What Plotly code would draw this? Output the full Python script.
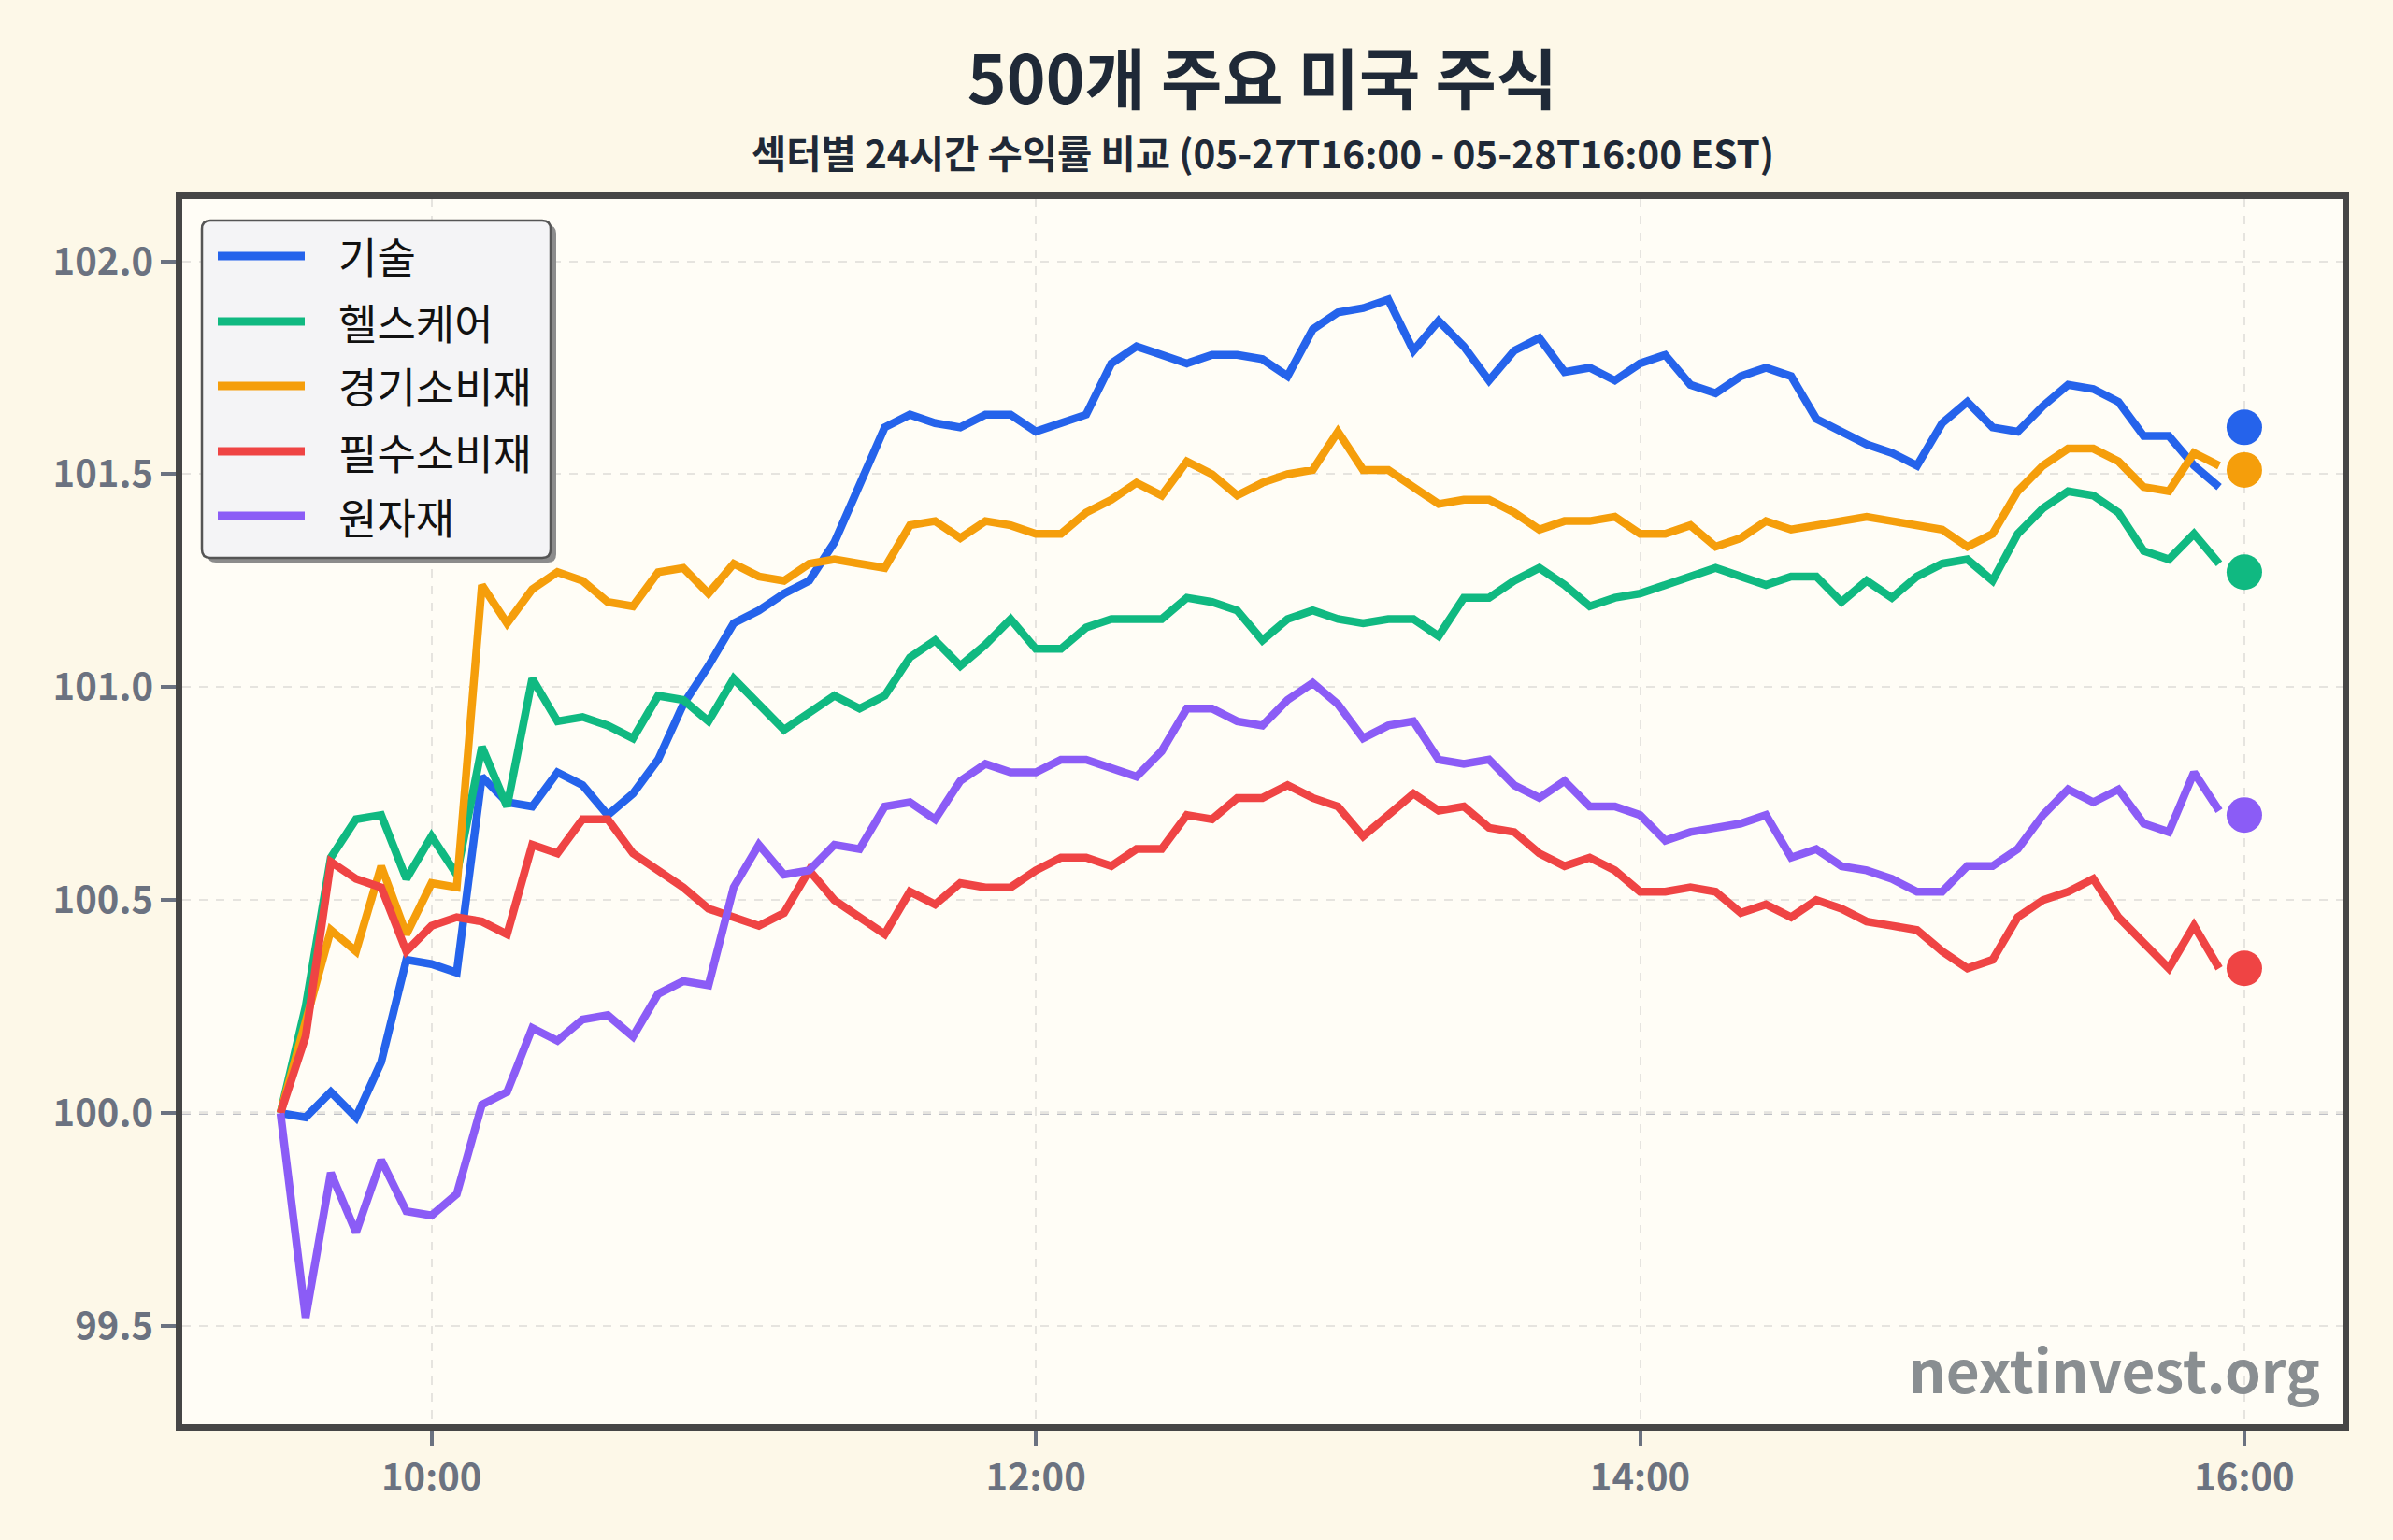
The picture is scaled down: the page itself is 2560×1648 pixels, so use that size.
import pandas as pd
import plotly.graph_objects as go

# ---------------- data ----------------
start_time = "2025-05-28 09:30"
n_points = 78
end_time = "2025-05-28 16:00"

sectors = ["기술", "헬스케어", "경기소비재", "필수소비재", "원자재"]
colors = ["#2563eb", "#10b981", "#f59e0b", "#ef4444", "#8b5cf6"]

tech = [100.00, 99.99, 100.05, 99.99, 100.12, 100.36, 100.35, 100.33, 100.79, 100.73,
        100.72, 100.80, 100.77, 100.70, 100.75, 100.83, 100.96, 101.05, 101.15, 101.18,
        101.22, 101.25, 101.34, 101.48, 101.61, 101.64, 101.62, 101.61, 101.64, 101.64,
        101.60, 101.62, 101.64, 101.76, 101.80, 101.78, 101.76, 101.78, 101.78, 101.77,
        101.73, 101.84, 101.88, 101.89, 101.91, 101.79, 101.86, 101.80, 101.72, 101.79,
        101.82, 101.74, 101.75, 101.72, 101.76, 101.78, 101.71, 101.69, 101.73, 101.75,
        101.73, 101.63, 101.60, 101.57, 101.55, 101.52, 101.62, 101.67, 101.61, 101.60,
        101.66, 101.71, 101.70, 101.67, 101.59, 101.59, 101.52, 101.47]

health = [100.00, 100.25, 100.60, 100.69, 100.70, 100.55, 100.65, 100.56, 100.86, 100.72,
          101.02, 100.92, 100.93, 100.91, 100.88, 100.98, 100.97, 100.92, 101.02, 100.96,
          100.90, 100.94, 100.98, 100.95, 100.98, 101.07, 101.11, 101.05, 101.10, 101.16,
          101.09, 101.09, 101.14, 101.16, 101.16, 101.16, 101.21, 101.20, 101.18, 101.11,
          101.16, 101.18, 101.16, 101.15, 101.16, 101.16, 101.12, 101.21, 101.21, 101.25,
          101.28, 101.24, 101.19, 101.21, 101.22, 101.24, 101.26, 101.28, 101.26, 101.24,
          101.26, 101.26, 101.20, 101.25, 101.21, 101.26, 101.29, 101.30, 101.25, 101.36,
          101.42, 101.46, 101.45, 101.41, 101.32, 101.30, 101.36, 101.29]

discretionary = [100.00, 100.21, 100.43, 100.38, 100.58, 100.42, 100.54, 100.53, 101.24, 101.15,
                 101.23, 101.27, 101.25, 101.20, 101.19, 101.27, 101.28, 101.22, 101.29, 101.26,
                 101.25, 101.29, 101.30, 101.29, 101.28, 101.38, 101.39, 101.35, 101.39, 101.38,
                 101.36, 101.36, 101.41, 101.44, 101.48, 101.45, 101.53, 101.50, 101.45, 101.48,
                 101.50, 101.51, 101.60, 101.51, 101.51, 101.47, 101.43, 101.44, 101.44, 101.41,
                 101.37, 101.39, 101.39, 101.40, 101.36, 101.36, 101.38, 101.33, 101.35, 101.39,
                 101.37, 101.38, 101.39, 101.40, 101.39, 101.38, 101.37, 101.33, 101.36, 101.46,
                 101.52, 101.56, 101.56, 101.53, 101.47, 101.46, 101.55, 101.52]

staples = [100.00, 100.18, 100.59, 100.55, 100.53, 100.38, 100.44, 100.46, 100.45, 100.42,
           100.63, 100.61, 100.69, 100.69, 100.61, 100.57, 100.53, 100.48, 100.46, 100.44,
           100.47, 100.57, 100.50, 100.46, 100.42, 100.52, 100.49, 100.54, 100.53, 100.53,
           100.57, 100.60, 100.60, 100.58, 100.62, 100.62, 100.70, 100.69, 100.74, 100.74,
           100.77, 100.74, 100.72, 100.65, 100.70, 100.75, 100.71, 100.72, 100.67, 100.66,
           100.61, 100.58, 100.60, 100.57, 100.52, 100.52, 100.53, 100.52, 100.47, 100.49,
           100.46, 100.50, 100.48, 100.45, 100.44, 100.43, 100.38, 100.34, 100.36, 100.46,
           100.50, 100.52, 100.55, 100.46, 100.40, 100.34, 100.44, 100.34]

materials = [100.00, 99.52, 99.86, 99.72, 99.89, 99.77, 99.76, 99.81, 100.02, 100.05,
             100.20, 100.17, 100.22, 100.23, 100.18, 100.28, 100.31, 100.30, 100.53, 100.63,
             100.56, 100.57, 100.63, 100.62, 100.72, 100.73, 100.69, 100.78, 100.82, 100.80,
             100.80, 100.83, 100.83, 100.81, 100.79, 100.85, 100.95, 100.95, 100.92, 100.91,
             100.97, 101.01, 100.96, 100.88, 100.91, 100.92, 100.83, 100.82, 100.83, 100.77,
             100.74, 100.78, 100.72, 100.72, 100.70, 100.64, 100.66, 100.67, 100.68, 100.70,
             100.60, 100.62, 100.58, 100.57, 100.55, 100.52, 100.52, 100.58, 100.58, 100.62,
             100.70, 100.76, 100.73, 100.76, 100.68, 100.66, 100.80, 100.71]

final_values = [101.61, 101.27, 101.51, 100.34, 100.70]

y_tickvals = [99.5, 100.0, 100.5, 101.0, 101.5, 102.0]
x_tickvals = ["2025-05-28 10:00", "2025-05-28 12:00", "2025-05-28 14:00", "2025-05-28 16:00"]
x_range = ["2025-05-28 09:10:30", "2025-05-28 16:19:30"]
y_range = [99.27, 102.146]

title_text = "500개 주요 미국 주식"
subtitle_text = "섹터별 24시간 수익률 비교 (05-27T16:00 - 05-28T16:00 EST)"
watermark = "nextinvest.org"

# ---------------- figure ----------------
times = pd.date_range(start_time, periods=n_points, freq="5min")
series = [tech, health, discretionary, staples, materials]
FONT = "Noto Sans CJK KR"
W, H = 2560, 1648
ML, MR, MT, MB = 195, 54, 213, 124
PW, PH = W - ML - MR, H - MT - MB


def px_x(px):
    return (px - ML) / PW


def px_y(py):
    return (H - MB - py) / PH


def rounded_rect(x0p, y0p, x1p, y1p, r):
    """Rounded rectangle path in paper coords from pixel box (top-left, bottom-right)."""
    x0, x1 = px_x(x0p), px_x(x1p)
    yt, yb = px_y(y0p), px_y(y1p)
    rx, ry = r / PW, r / PH
    return (f"M {x0 + rx},{yt} L {x1 - rx},{yt} Q {x1},{yt} {x1},{yt - ry} "
            f"L {x1},{yb + ry} Q {x1},{yb} {x1 - rx},{yb} L {x0 + rx},{yb} "
            f"Q {x0},{yb} {x0},{yb + ry} L {x0},{yt - ry} Q {x0},{yt} {x0 + rx},{yt} Z")


fig = go.Figure()
for name, vals, col in zip(sectors, series, colors):
    fig.add_trace(go.Scatter(
        x=times, y=vals, mode="lines", name=name,
        line=dict(color=col, width=8.5), showlegend=False,
    ))
for name, val, col in zip(sectors, final_values, colors):
    fig.add_trace(go.Scatter(
        x=[pd.Timestamp(end_time)], y=[val], mode="markers", name=name,
        marker=dict(color=col, size=38, line=dict(width=0)), showlegend=False,
    ))

fig.add_shape(type="line", xref="paper", x0=0, x1=1, yref="y", y0=100, y1=100,
              line=dict(color="#a9abb5", width=3, dash="dash"), layer="below")

# ---- legend (box with shadow, line samples, labels) ----
box = (216, 236, 589, 597)
fig.add_shape(type="path", xref="paper", yref="paper",
              path=rounded_rect(box[0] + 6, box[1] + 5, box[2] + 6, box[3] + 5, 9),
              fillcolor="#8c8c8c", line=dict(width=0), layer="above")
fig.add_shape(type="path", xref="paper", yref="paper",
              path=rounded_rect(*box, 9),
              fillcolor="#f4f4f6", line=dict(color="#555555", width=2.5), layer="above")
row_y = [274, 344, 413, 483, 552]
for name, col, ry in zip(sectors, colors, row_y):
    fig.add_shape(type="line", xref="paper", yref="paper",
                  x0=px_x(233), x1=px_x(326), y0=px_y(ry), y1=px_y(ry),
                  line=dict(color=col, width=9), layer="above")
    fig.add_annotation(text=name, xref="paper", yref="paper", x=px_x(360), y=px_y(ry),
                       xanchor="left", yanchor="middle", showarrow=False,
                       font=dict(family=FONT, size=45, color="#111111"))

axis_common = dict(
    showline=True, linecolor="#464646", linewidth=7, mirror=True,
    showgrid=True, gridcolor="#e6e4df", gridwidth=2, griddash="dash",
    ticks="outside", ticklen=16, tickwidth=4, tickcolor="#6b7280",
    tickfont=dict(family=FONT, size=40, color="#6b7280", weight="bold"),
    zeroline=False,
)
fig.update_xaxes(type="date", range=x_range, tickvals=x_tickvals, tickformat="%H:%M",
                 **axis_common)
fig.update_yaxes(range=y_range, tickvals=y_tickvals, tickformat=".1f", **axis_common)

fig.update_layout(
    width=W, height=H,
    margin=dict(l=ML, r=MR, t=MT, b=MB),
    paper_bgcolor="#fdf8e8", plot_bgcolor="#fffdf6",
    font=dict(family=FONT, color="#1f2937"),
    title=dict(text=title_text, x=0.5, xref="paper", xanchor="center",
               y=1 - 86 / H, yref="container", yanchor="middle",
               font=dict(family=FONT, size=71, color="#1f2937", weight="bold")),
    showlegend=False,
)

fig.add_annotation(text=subtitle_text, xref="paper", yref="paper", x=0.5, y=px_y(163),
                   xanchor="center", yanchor="middle", showarrow=False,
                   font=dict(family=FONT, size=40.5, color="#1f2937", weight="bold"))
fig.add_annotation(text=watermark, xref="paper", yref="paper", x=px_x(2484), y=0.010,
                   xanchor="right", yanchor="bottom", showarrow=False,
                   font=dict(family=FONT, size=62, color="#7d8287", weight="bold"),
                   opacity=0.9)

fig.write_html("out.html")
